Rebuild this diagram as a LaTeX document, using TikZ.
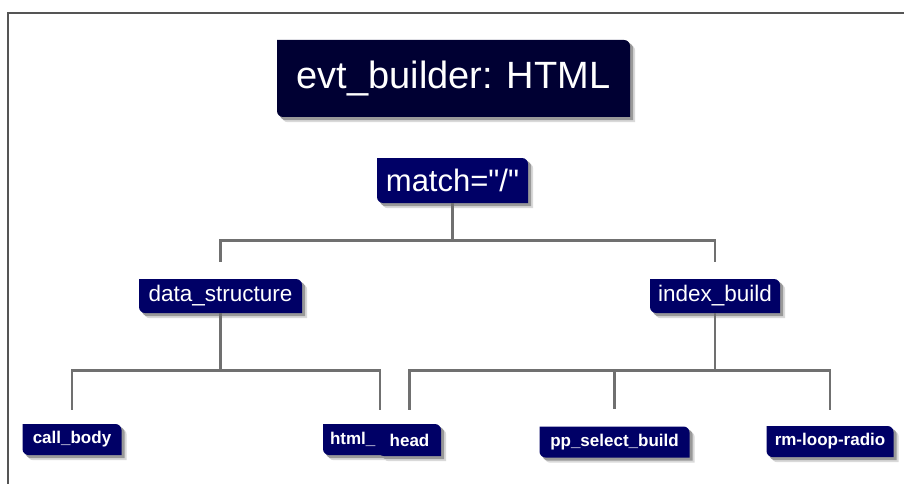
\documentclass[tikz,border=0pt]{standalone}
\usepackage{fontspec}
\setmainfont{Liberation Sans}
\usetikzlibrary{backgrounds}

\definecolor{titleblue}{HTML}{000033}
\definecolor{boxblue}{HTML}{000066}
\definecolor{linegray}{HTML}{707070}
\definecolor{framegray}{HTML}{555555}

% box with rounded top right and bottom left corners
\newcommand{\leafshape}[1]{(#1.north west) -- ([xshift=-6pt]#1.north east)
  arc[start angle=90,end angle=0,radius=6pt] -- (#1.south east)
  -- ([xshift=6pt]#1.south west) arc[start angle=270,end angle=180,radius=6pt] -- cycle}

\begin{document}
\begin{tikzpicture}[x=1pt,y=1pt,
        leaf/.style={
        inner sep=0pt, text=white,
        path picture={\fill[#1] \leafshape{path picture bounding box};}},
        leaf/.default=boxblue,
        titlebox/.style={leaf=titleblue,
        minimum width=353, minimum height=77,
        font=\fontsize{38}{40}\selectfont},
        rootbox/.style={leaf,
        minimum width=151, minimum height=45,
        font=\fontsize{31}{33}\selectfont},
        midbox/.style={leaf,
        minimum height=34,
        font=\fontsize{22.5}{24}\selectfont},
        leafbox/.style={leaf,
        minimum height=31,
        font=\fontsize{17}{19}\selectfont\bfseries},
        link/.style={draw=linegray, line width=2.6pt},
        shadowdark/.style={fill=black!40},
        shadowsoft/.style={fill=black!15},
        ]

        \useasboundingbox (0,0) rectangle (904,-484);
        \draw [framegray, line width=1.3pt] (8,-484) -- (8,-13) -- (904,-13);

        \node (title) [titlebox] at (453.5,-78.5){evt\_builder: HTML};
        \node (match) [rootbox] at (452.5,-180.5){match=\textquotedbl/\textquotedbl};

        \node (data) [midbox, minimum width=163] at (220.5,-296){data\_structure};
        \node (index) [midbox, minimum width=130] at (715,-296){index\_build};

        \node (call) [leafbox, minimum width=99] at (72,-439.5){call\_body};
        \node (html) [leafbox, text width=100, inner xsep=7, align=left] at (380,-439.5){html\_};
        \node (head) [leafbox, minimum width=63, minimum height=32] at (409.5,-440){head};
        \node (pp) [leafbox, minimum width=150] at (614.5,-442){pp\_select\_build};
        \node (rm) [leafbox, minimum width=127] at (830,-441.5){rm-loop-radio};

        \begin{scope}[on background layer]
        \foreach \n in {title,match,data,index,call,html,head,pp,rm}{
            \fill [shadowsoft, transform canvas={shift={(5pt,-5pt)}}] \leafshape{\n};
            \fill [shadowdark, transform canvas={shift={(3pt,-3pt)}}] \leafshape{\n};
        }
        \end{scope}

        \draw [link] (match.south) -- ++(0,-37) -| ([yshift=17]data.north);
        \draw [link] (match.south) -- ++(0,-37) -| ([yshift=17]index.north);
        \draw [link] (data.south) -- ++(0,-57) -| ([yshift=14]call.north);
        \draw [link] (data.south) -- ++(0,-57) -| ([yshift=14]html.north);
        \draw [link] (index.south) -- ++(0,-57) -| ([yshift=14]head.north);
        \draw [link] (index.south) -- ++(0,-57) -| ([yshift=17]pp.north);
        \draw [link] (index.south) -- ++(0,-57) -| ([yshift=16]rm.north);
    \end{tikzpicture}
\end{document}
